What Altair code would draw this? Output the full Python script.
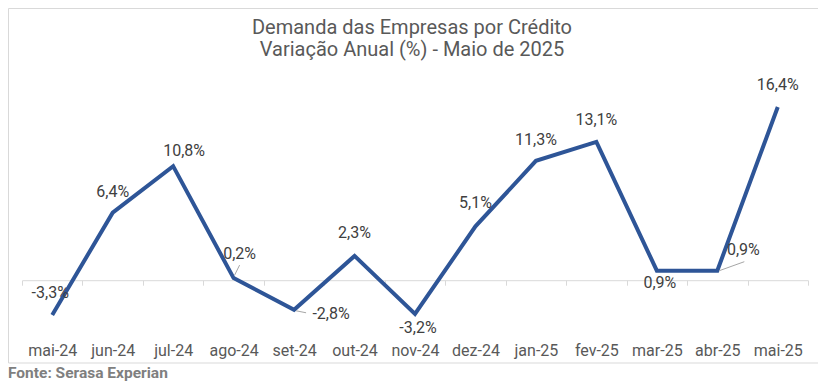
import altair as alt
import pandas as pd

# ---- data ----
months = ["mai-24", "jun-24", "jul-24", "ago-24", "set-24", "out-24", "nov-24",
          "dez-24", "jan-25", "fev-25", "mar-25", "abr-25", "mai-25"]
values = [-3.3, 6.4, 10.8, 0.2, -2.8, 2.3, -3.2, 5.1, 11.3, 13.1, 0.9, 0.9, 16.4]
labels = [f"{v:.1f}%".replace(".", ",") for v in values]

title_lines = ["Demanda das Empresas por Crédito", "Variação Anual (%) - Maio de 2025"]
source_text = ["Fonte: Serasa Experian"]

# label offsets (pixels, style only)
label_dx = [-2, 0, 11, 6, 37, 0, 3, 0, 0, 0, 3, 26, 0]
label_dy = [-22, -21, -15, -24, 4, -23, 14, -23, -21, -22, 12, -21, -22]

# leader lines: month, (x1,y1,x2,y2) offsets in pixels
leaders = {"ago-24": (1, -3, 6, -13), "set-24": (2, 1, 12, 3), "abr-25": (2, 0, 27, -9)}

df = pd.DataFrame({"mes": months, "valor": values, "rotulo": labels})

W, H = 786, 264
LINE = "#2E5597"
YDOM = [-5, 20]
zero_px = H * YDOM[1] / (YDOM[1] - YDOM[0])

xenc = alt.X("mes:N", sort=months, bandPosition=0.5,
             scale=alt.Scale(type="band", paddingInner=0, paddingOuter=0),
             axis=alt.Axis(title=None, labelAngle=0, domainColor="#d9d9d9",
                           tickColor="#d9d9d9", tickBand="extent", tickSize=5,
                           offset=-(H - zero_px), labelPadding=57,
                           labelFont="Roboto", labelFontSize=16, labelColor="#595959",
                           grid=False))
yenc = alt.Y("valor:Q", scale=alt.Scale(domain=YDOM, nice=False, zero=False), axis=None)

base = alt.Chart(df)

line = base.mark_line(color=LINE, strokeWidth=4, strokeCap="butt", strokeJoin="miter").encode(x=xenc, y=yenc)

layers = [line]

for m, (x1, y1, x2, y2) in leaders.items():
    layers.append(
        base.transform_filter(alt.datum.mes == m).mark_rule(
            color="#a6a6a6", strokeWidth=1,
            xOffset=x1, yOffset=y1, x2Offset=x2, y2Offset=y2
        ).encode(x=xenc, x2=alt.X2("mes:N"), y=yenc, y2=alt.Y2("valor:Q"))
    )

for i, m in enumerate(months):
    layers.append(
        base.transform_filter(alt.datum.mes == m).mark_text(
            font="Roboto", fontSize=16, color="#404040",
            dx=label_dx[i], dy=label_dy[i], baseline="middle", align="center"
        ).encode(x=xenc, y=yenc, text="rotulo:N")
    )

for j, t in enumerate(title_lines):
    layers.append(
        alt.Chart(pd.DataFrame({"t": [t]})).mark_text(
            font="Roboto", fontSize=20, color="#595959", align="center", baseline="middle"
        ).encode(x=alt.value(390), y=alt.value(-41 + 22 * j), text="t:N")
    )

layers.append(
    alt.Chart(pd.DataFrame({"t": source_text})).mark_text(
        font="Roboto", fontSize=15.5, fontWeight="bold", color="#7f7f7f",
        align="left", baseline="middle"
    ).encode(x=alt.value(-14), y=alt.value(304), text="t:N")
)

layers.append(
    alt.Chart(pd.DataFrame({"t": [1]})).mark_rect(
        fillOpacity=0, stroke="#d9d9d9", strokeWidth=1
    ).encode(x=alt.value(-13.5), x2=alt.value(799.5), y=alt.value(-60.5), y2=alt.value(294))
)

chart = alt.layer(*layers).properties(
    width=W, height=H,
    autosize=alt.AutoSizeParams(type="none"),
    padding={"left": 14, "top": 61, "right": 10, "bottom": 49},
    background="white"
).configure_view(stroke=None)

chart.save("out.html", embed_options={"renderer": "svg", "actions": False})
